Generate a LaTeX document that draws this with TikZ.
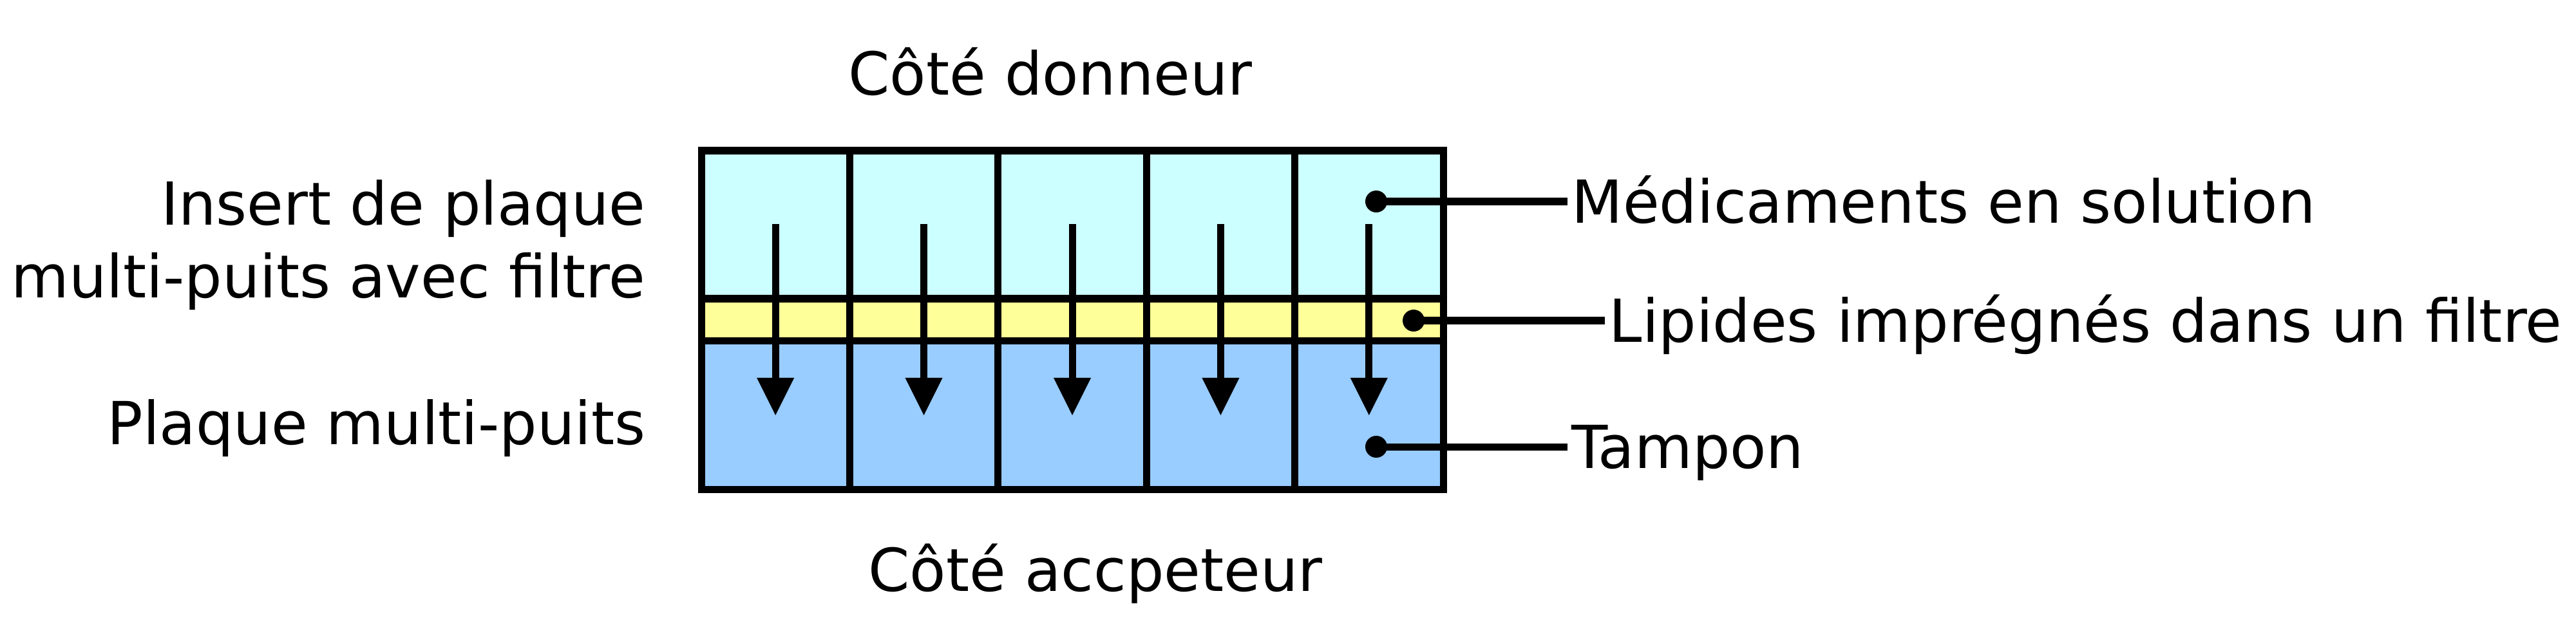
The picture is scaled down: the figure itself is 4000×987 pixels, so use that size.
\documentclass[tikz,border=0pt]{standalone}
\usepackage{fontspec}
\setmainfont{DejaVu Sans}
\usepackage{tikz}
\usetikzlibrary{arrows.meta, positioning}
\definecolor{DonorCyan}{HTML}{CCFFFF}
\definecolor{FilterYellow}{HTML}{FFFF99}
\definecolor{BufferBlue}{HTML}{99CCFF}
\tikzset{
  wellline/.style={line width=1.1mm, draw=black},
  sidelabel/.style={font=\fontsize{26.2pt}{31.9pt}\selectfont, inner sep=0pt},
  partlabel/.style={font=\fontsize{26.2pt}{31.9pt}\selectfont, inner sep=0pt,
                    inner xsep=0.6mm, text height=19.1pt, text depth=0pt, anchor=west},
  pindot/.style={circle, fill=black, inner sep=0pt, minimum size=3.4mm},
  pinline/.style={line width=1.1mm, draw=black},
  arrowflow/.style={-{Triangle[length=5.8mm, width=5.8mm, line width=0pt]}, line width=1.1mm}
}

\begin{document}
\begin{tikzpicture}[x=0.01cm, y=0.01cm]
  \useasboundingbox (0,0) rectangle (4000,987);

  % plate layers
  \fill[DonorCyan]    (1089,523) rectangle (2241,753);
  \fill[FilterYellow] (1089,458) rectangle (2241,523);
  \fill[BufferBlue]   (1089,227) rectangle (2241,458);
  \draw[wellline] (1089,227) rectangle (2241,753);
  \draw[wellline] (1089,523) -- (2241,523);
  \draw[wellline] (1089,458) -- (2241,458);
  \foreach \i in {1,...,4}
    \draw[wellline] ({1089+230.4*\i},227) -- ({1089+230.4*\i},753);

  % flow through each well
  \foreach \i in {0,...,4} {
    \coordinate (in\i)  at ({1204.2+230.4*\i},639);
    \coordinate (out\i) at ({1204.2+230.4*\i},342);
    \draw[arrowflow] (in\i) -- (out\i);
  }

  \node[sidelabel, anchor=base] (donor)    at (1631,839) {Côté donneur};
  \node[sidelabel, anchor=base] (acceptor) at (1701,69)  {Côté accpeteur};
  \node[sidelabel, anchor=base east, align=right] (insert) at (1003,525) {Insert de plaque\\multi-puits avec filtre};
  \node[sidelabel, anchor=base east] (plate) at (1003,297) {Plaque multi-puits};

  \node[partlabel] (drug)   at (2434,674) {Médicaments en solution};
  \node[partlabel] (lipid)  at (2492,489) {Lipides imprégnés dans un filtre};
  \node[partlabel] (buffer) at (2434,293) {Tampon};

  \node[pindot] (drugdot)   at (2137,674) {};
  \node[pindot] (lipiddot)  at (2195,489) {};
  \node[pindot] (bufferdot) at (2137,293) {};

  \draw[pinline] (drugdot.center)   -- (drug.west);
  \draw[pinline] (lipiddot.center)  -- (lipid.west);
  \draw[pinline] (bufferdot.center) -- (buffer.west);
\end{tikzpicture}
\end{document}
